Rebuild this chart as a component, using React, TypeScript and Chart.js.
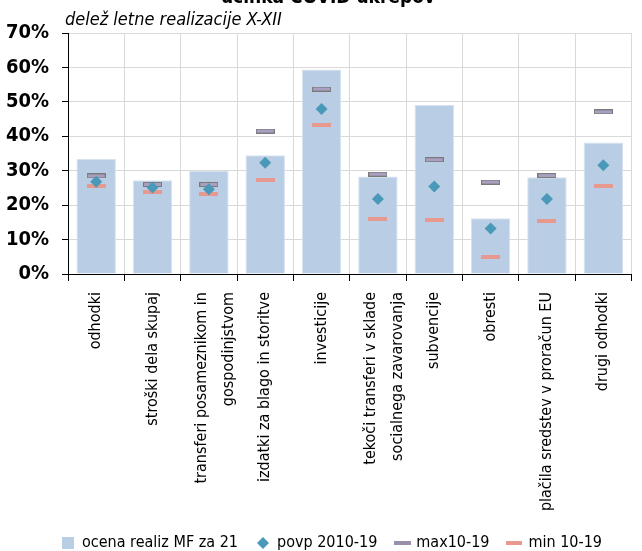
import React, { useEffect, useRef } from "react";
import { Chart, registerables } from "chart.js";
Chart.register(...registerables);

const categories: (string | string[])[] = [
  "odhodki",
  "stroški dela skupaj",
  ["transferi posameznikom in", "gospodinjstvom"],
  "izdatki za blago in storitve",
  "investicije",
  ["tekoči transferi v sklade", "socialnega zavarovanja"],
  "subvencije",
  "obresti",
  "plačila sredstev v proračun EU",
  "drugi odhodki",
];
const ocenaRealiz = [33.5, 27.2, 29.9, 34.5, 59.4, 28.3, 49.1, 16.2, 28.1, 38.2];
const povp = [26.8, 25.1, 24.6, 32.3, 47.9, 21.8, 25.4, 13.2, 21.8, 31.6];
const max1019 = [28.5, 26.0, 26.0, 41.5, 53.7, 29.0, 33.2, 26.7, 28.6, 47.1];
const min1019 = [25.6, 23.8, 23.2, 27.2, 43.4, 16.0, 15.6, 4.9, 15.4, 25.5];
const seriesNames = ["ocena realiz MF za 21", "povp 2010-19", "max10-19", "min 10-19"];
const titleText = "učinka COVID ukrepov";
const subtitleText = "delež letne realizacije X-XII";
const yMin = 0;
const yMax = 70;
const yStep = 10;

const FONT = "'Liberation Sans Narrow', 'DejaVu Sans Condensed', 'Roboto Condensed', 'Liberation Sans', sans-serif";
const BAR_COLOR = "#B9CDE5";
const AVG_COLOR = "#4B99B9";
const MAX_FILL = "#A99FC0";
const MAX_STROKE = "#7A7A7A";
const MIN_COLOR = "#E8998F";

function makeRect(w: number, h: number, fill: string, stroke?: string) {
  const c = document.createElement("canvas");
  c.width = w;
  c.height = h;
  const g = c.getContext("2d")!;
  g.fillStyle = fill;
  g.fillRect(0, 0, w, h);
  if (stroke) {
    g.strokeStyle = stroke;
    g.lineWidth = 1;
    g.strokeRect(0.5, 0.5, w - 1, h - 1);
  }
  return c;
}

function makeDiamond(s: number, fill: string) {
  const c = document.createElement("canvas");
  c.width = s;
  c.height = s;
  const g = c.getContext("2d")!;
  g.fillStyle = fill;
  g.beginPath();
  g.moveTo(s / 2, 0);
  g.lineTo(s, s / 2);
  g.lineTo(s / 2, s);
  g.lineTo(0, s / 2);
  g.closePath();
  g.fill();
  return c;
}

export default function App() {
  const ref = useRef<HTMLCanvasElement | null>(null);
  useEffect(() => {
    document.body.style.margin = "0";
    const maxImg = makeRect(19, 5, MAX_FILL, MAX_STROKE);
    const minImg = makeRect(19, 4, MIN_COLOR);
    const legBox = makeRect(12, 12, BAR_COLOR);
    const legDiamond = makeDiamond(12, AVG_COLOR);
    const legMax = makeRect(17, 4, "#9890AA");
    const legMin = makeRect(16, 4, MIN_COLOR);

    const textPlugin = {
      id: "texts",
      afterLayout(chart: any) {
        const lg = chart.legend;
        if (lg) {
          lg.left += 12;
          lg.right += 12;
        }
      },
      beforeDraw(chart: any) {
        const s = chart.scales.x;
        const items = s.getLabelItems(chart.chartArea);
        items.forEach((it: any) => {
          if (Array.isArray(it.label) && !it._adj) {
            it.textOffset -= 7;
            it._adj = true;
          }
        });
      },
      afterDraw(chart: any) {
        const ctx = chart.ctx;
        ctx.save();
        ctx.fillStyle = "#000";
        ctx.font = `bold 19px ${FONT}`;
        ctx.textAlign = "center";
        ctx.textBaseline = "alphabetic";
        ctx.fillText(titleText, 328, 3);
        ctx.font = `italic 18px ${FONT}`;
        ctx.textAlign = "left";
        ctx.fillText(subtitleText, 65, 25);
        ctx.restore();
      },
    };
    const chart = new Chart(ref.current!, {
      type: "bar",
      data: {
        labels: categories as any,
        datasets: [
          {
            type: "bar",
            label: seriesNames[0],
            data: ocenaRealiz,
            backgroundColor: BAR_COLOR,
            borderColor: "#D6E2F0",
            borderWidth: 1,
            categoryPercentage: 1,
            barPercentage: 0.7,
            order: 4,
          },
          {
            type: "line",
            label: seriesNames[1],
            data: povp,
            showLine: false,
            pointStyle: "rectRot",
            pointRadius: 6,
            pointBackgroundColor: AVG_COLOR,
            pointBorderColor: AVG_COLOR,
            pointBorderWidth: 0,
            order: 1,
          } as any,
          {
            type: "line",
            label: seriesNames[2],
            data: max1019,
            showLine: false,
            pointStyle: maxImg,
            pointRadius: 9,
            order: 2,
          } as any,
          {
            type: "line",
            label: seriesNames[3],
            data: min1019,
            showLine: false,
            pointStyle: minImg,
            pointRadius: 9,
            order: 3,
          } as any,
        ],
      },
      options: {
        animation: false,
        responsive: false,
        layout: { padding: { top: 33, right: 2, left: 0, bottom: -10 } },
        plugins: {
          tooltip: { enabled: false },
          title: { display: false },
          legend: {
            position: "bottom",
            labels: {
              usePointStyle: true,
              boxHeight: 12,
              boxWidth: 12,
              padding: 19,
              color: "#000",
              font: { family: FONT, size: 16 },
              generateLabels: () => [
                { text: seriesNames[0], fillStyle: BAR_COLOR, strokeStyle: BAR_COLOR, lineWidth: 0, pointStyle: legBox, datasetIndex: 0, fontColor: "#000" },
                { text: seriesNames[1], fillStyle: AVG_COLOR, strokeStyle: AVG_COLOR, lineWidth: 0, pointStyle: legDiamond, datasetIndex: 1, fontColor: "#000" },
                { text: seriesNames[2], fillStyle: MAX_FILL, strokeStyle: MAX_FILL, lineWidth: 0, pointStyle: legMax, datasetIndex: 2, fontColor: "#000" },
                { text: seriesNames[3], fillStyle: MIN_COLOR, strokeStyle: MIN_COLOR, lineWidth: 0, pointStyle: legMin, datasetIndex: 3, fontColor: "#000" },
              ] as any,
            },
          },
        },
        scales: {
          x: {
            grid: { color: "#D9D9D9", tickColor: "#000", tickLength: 7, offset: true },
            border: { color: "#000", width: 1 },
            ticks: {
              color: "#000",
              font: { family: FONT, size: 16, lineHeight: 1.7 },
              minRotation: 90,
              maxRotation: 90,
              autoSkip: false,
              padding: 11,
            },
            afterFit: (scale: any) => {
              scale.height = 242;
            },
          },
          y: {
            min: yMin,
            max: yMax,
            grid: { color: "#D9D9D9", tickColor: "#000", tickLength: 6 },
            border: { color: "#000", width: 1 },
            ticks: {
              stepSize: yStep,
              color: "#000",
              font: { family: FONT, size: 20, weight: "bold" },
              padding: 13,
              callback: (v: any) => `${v}%`,
            },
            afterFit: (scale: any) => {
              scale.width = 68;
            },
          },
        },
      },
      plugins: [textPlugin],
    });
    return () => chart.destroy();
  }, []);
  return (
    <div style={{ width: 642, height: 551 }}>
      <canvas ref={ref} width={642} height={551} style={{ display: "block" }} />
    </div>
  );
}
